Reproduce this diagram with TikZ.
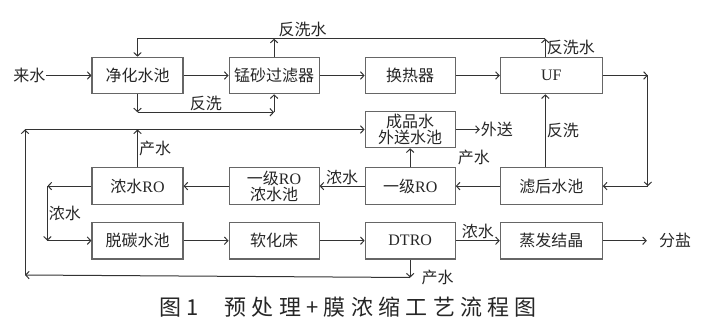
\documentclass[tikz,border=0pt]{standalone}
\usepackage{fontspec}
\setmainfont{Noto Sans CJK SC}
\newfontfamily\latinfont{Liberation Serif}
\newfontfamily\titlefont[LetterSpace=24]{Noto Sans CJK SC}
\usetikzlibrary{arrows.meta, positioning}
\newcommand{\en}[1]{{\latinfont #1}}

\begin{document}
\begin{tikzpicture}[x=1pt, y=-1pt,
    unit/.style={draw=black!60, line width=1.1pt, rectangle, minimum width=90pt, minimum height=36.5pt, inner sep=1pt, align=center, text=black!85, font=\fontsize{16}{16}\selectfont},
    wide/.style={unit, minimum width=102pt},
    lbl/.style={inner sep=1pt, text=black!85, font=\fontsize{16}{16}\selectfont},
    flow/.style={-{Straight Barb[length=3.5pt,width=7.5pt]}, line width=1pt, draw=black!80}
]
    \useasboundingbox (0,0) rectangle (703,334);

    \node[unit, minimum width=91pt] (jinghua) at (137.5,75.5) {净化水池};
    \node[unit, right=45pt of jinghua] (mengsha) {锰砂过滤器};
    \node[unit, right=45pt of mengsha] (huanre) {换热器};
    \node[wide, right=44pt of huanre] (uf) {\en{UF}};
    \node[wide, below=73pt of uf] (lvhou) {滤后水池};
    \node[unit, left=44pt of lvhou] (yiji) {一级\en{RO}};
    \node[unit, above=19pt of yiji] (chengpin) {成品水\\外送水池};
    \node[unit, left=45pt of yiji] (nongchi) {一级\en{RO}\\浓水池};
    \node[unit, minimum width=91pt, left=45pt of nongchi] (nongro) {浓水\en{RO}};
    \node[unit, minimum width=91pt, below=17pt of nongro] (tuotan) {脱碳水池};
    \node[unit, right=45pt of tuotan] (ruanhua) {软化床};
    \node[unit, right=45pt of ruanhua] (dtro) {\en{DTRO}};
    \node[wide, right=44pt of dtro] (zhengfa) {蒸发结晶};

    \node[lbl, left=45pt of jinghua] (laishui) {来水};
    \node[lbl, right=24pt of chengpin] (waisong) {外送};
    \node[lbl, right=55pt of zhengfa] (fenyan) {分盐};

    \coordinate (ufup) at ([xshift=-6pt]uf.north);
    \coordinate (ufin) at ([xshift=-6pt]uf.south);
    \coordinate (lvup) at ([xshift=-6pt]lvhou.north);
    \coordinate (bwtop) at ([yshift=18pt]ufup);
    \coordinate (bwsplit) at ([yshift=-18pt]jinghua.south);
    \coordinate (bwcorner) at (bwsplit -| mengsha.south);
    \coordinate (ufout) at ([xshift=45pt]uf.east);
    \coordinate (ufdown) at (ufout |- lvhou.east);
    \coordinate (roout) at ([xshift=-44pt]nongro.west);
    \coordinate (rodown) at (roout |- tuotan.west);
    \coordinate (dtroout) at ([yshift=-18pt]dtro.south);
    \coordinate (loopleft) at (25,275);
    \coordinate (looptop) at (loopleft |- chengpin.west);

    % main line
    \draw[flow] (laishui) -- (jinghua);
    \draw[flow] (jinghua) -- (mengsha);
    \draw[flow] (mengsha) -- (huanre);
    \draw[flow] (huanre) -- (uf);

    % backwash
    \draw[flow] (ufup) -- node[lbl, right] {反洗水} (bwtop);
    \draw[flow] (mengsha.north) -- (mengsha.north |- bwtop) node[lbl, above right, xshift=3pt] {反洗水};
    \draw[flow] (bwtop) -- (bwtop -| jinghua.north) -- (jinghua.north);
    \draw[flow] (jinghua.south) -- (bwsplit);
    \draw[flow] (bwsplit) -- node[lbl, above] {反洗} (bwcorner);
    \draw[flow] (bwcorner) -- (mengsha.south);

    % UF to filtrate tank
    \draw[flow] (uf) -- (ufout);
    \draw[flow] (ufout) -- (ufdown);
    \draw[flow] (ufdown) -- (lvhou);
    \draw[flow] (lvup) -- node[lbl, right] {反洗} (ufin);

    % RO stages
    \draw[flow] (lvhou) -- (yiji);
    \draw[flow] (yiji) -- node[lbl, above] {浓水} (nongchi);
    \draw[flow] (nongchi) -- (nongro);
    \draw[flow] (yiji) -- (chengpin);
    \node[lbl, anchor=west] (yijiout) at ([xshift=1pt, yshift=10pt]yiji.north east) {产水};
    \draw[flow] (chengpin) -- (waisong);

    % concentrate line
    \draw[flow] (nongro) -- (roout);
    \draw[flow] (roout) -- node[lbl, right] {浓水} (rodown);
    \draw[flow] (rodown) -- (tuotan);
    \draw[flow] (tuotan) -- (ruanhua);
    \draw[flow] (ruanhua) -- (dtro);
    \draw[flow] (dtro) -- node[lbl, above] {浓水} (zhengfa);
    \draw[flow, shorten >=11pt] (zhengfa) -- (fenyan);

    % product water return
    \draw[flow] (dtro) -- (dtroout) node[lbl, right=10pt] {产水};
    \draw[flow] (dtroout) -- (loopleft);
    \draw[flow] (loopleft) -- (looptop);
    \draw[flow] (looptop) -- (chengpin);
    \draw[flow] (nongro.north) -- node[lbl, right] {产水} (nongro.north |- chengpin.west);

    \node[text=black!85, font=\fontsize{22}{22}\titlefont] (caption) at (348,307) {图1\hspace{26pt}预处理+膜浓缩工艺流程图};
\end{tikzpicture}
\end{document}
